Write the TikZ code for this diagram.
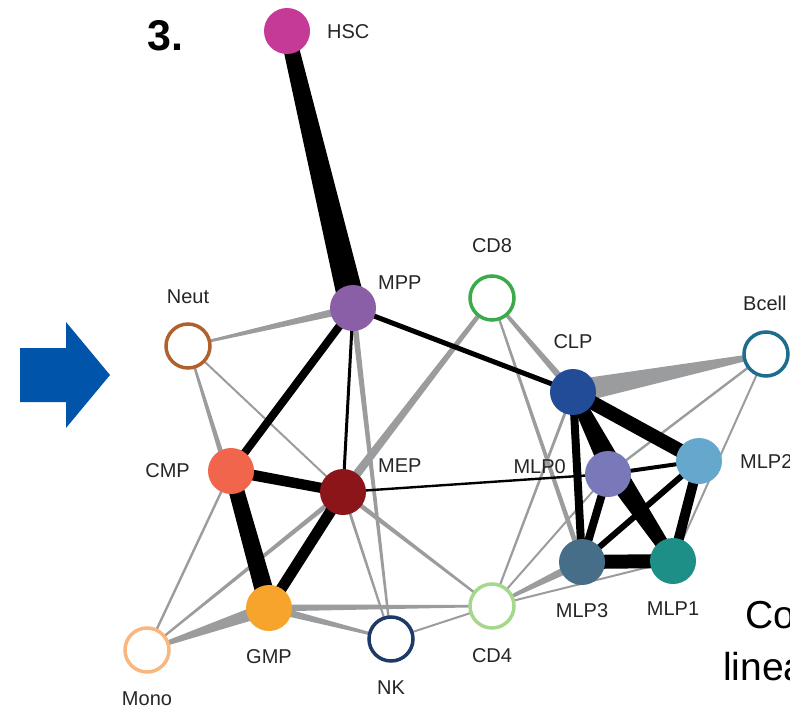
\documentclass[tikz,border=0pt]{standalone}
\usepackage{fontspec}
\setmainfont{Liberation Sans}
\usetikzlibrary{calc,backgrounds}
\definecolor{edgegray}{HTML}{9A9C9E}
\definecolor{labelgray}{HTML}{262626}
\definecolor{cHSC}{HTML}{C53A96}
\definecolor{cMPP}{HTML}{8B5EA8}
\definecolor{cNeut}{HTML}{B0612E}
\definecolor{cCMP}{HTML}{F0654B}
\definecolor{cMEP}{HTML}{8B1519}
\definecolor{cGMP}{HTML}{F6A42B}
\definecolor{cMono}{HTML}{F9B77F}
\definecolor{cNK}{HTML}{1E3A68}
\definecolor{cCDfour}{HTML}{A6D88C}
\definecolor{cCDeight}{HTML}{3BAA48}
\definecolor{cCLP}{HTML}{224C98}
\definecolor{cBcell}{HTML}{1D6E8C}
\definecolor{cMLPzero}{HTML}{7979BA}
\definecolor{cMLPtwo}{HTML}{66A7CD}
\definecolor{cMLPthree}{HTML}{466E89}
\definecolor{cMLPone}{HTML}{1D8F87}
\definecolor{arrowblue}{HTML}{0055AA}
% tapered connector: from #1 to #2, half-widths #3 at #1 and #4 at #2, colour #5
\newcommand{\taper}[5]{%
  \fill[#5] ($(#1)!#3!90:(#2)$) -- ($(#2)!#4!-90:(#1)$) -- ($(#2)!#4!90:(#1)$) -- ($(#1)!#3!-90:(#2)$) -- cycle;}
\begin{document}
\begin{tikzpicture}[x=1pt,y=-1pt,
  fnode/.style={circle, minimum size=46pt, inner sep=0pt, fill=#1},
  rnode/.style={circle, minimum size=44pt, inner sep=0pt, draw=#1, line width=3.5pt, fill=white},
  lbl/.style={font=\fontsize{20}{24}\selectfont, text=labelgray, inner sep=0pt},
  bigtxt/.style={font=\fontsize{39}{44}\selectfont, text=black, inner sep=0pt, anchor=base west}]
\useasboundingbox (0,0) rectangle (790,709);

% title and arrow
\node[font=\bfseries\fontsize{43}{48}\selectfont, inner sep=0pt, anchor=west] (title) at (147,36) {3.};
\fill[arrowblue] (20,348) -- (66,348) -- (66,322) -- (110,375) -- (66,428) -- (66,402) -- (20,402) -- cycle;

% nodes
\node[fnode=cHSC] (HSC) at (287,31) {};
\node[fnode=cMPP] (MPP) at (353,308) {};
\node[rnode=cNeut] (Neut) at (188,346) {};
\node[fnode=cCMP] (CMP) at (231,471) {};
\node[fnode=cMEP] (MEP) at (343,492) {};
\node[fnode=cGMP] (GMP) at (269,608) {};
\node[rnode=cMono] (Mono) at (147,650) {};
\node[rnode=cNK] (NK) at (391,639) {};
\node[rnode=cCDfour] (CD4) at (492,606) {};
\node[rnode=cCDeight] (CD8) at (492,298) {};
\node[fnode=cCLP] (CLP) at (573,392) {};
\node[rnode=cBcell] (Bcell) at (766,354) {};
\node[fnode=cMLPzero] (MLP0) at (608,474) {};
\node[fnode=cMLPtwo] (MLP2) at (699,461) {};
\node[fnode=cMLPthree] (MLP3) at (582,562) {};
\node[fnode=cMLPone] (MLP1) at (673,561) {};

% labels
\node[lbl, anchor=west] (lHSC) at (327,32) {HSC};
\node[lbl, anchor=west] (lMPP) at (378,283) {MPP};
\node[lbl] (lNeut) at (188,297) {Neut};
\node[lbl, anchor=east] (lCMP) at (190,471) {CMP};
\node[lbl, anchor=west] (lMEP) at (378,466) {MEP};
\node[lbl] (lGMP) at (269,657) {GMP};
\node[lbl] (lMono) at (147,699) {Mono};
\node[lbl] (lNK) at (391,688) {NK};
\node[lbl] (lCD4) at (492,656) {CD4};
\node[lbl] (lCD8) at (492,246) {CD8};
\node[lbl] (lCLP) at (573,342) {CLP};
\node[lbl, anchor=west] (lBcell) at (743,303) {Bcell};
\node[lbl, anchor=east] (lMLP0) at (566,467) {MLP0};
\node[lbl, anchor=west] (lMLP2) at (740,462) {MLP2};
\node[lbl] (lMLP3) at (582,611) {MLP3};
\node[lbl] (lMLP1) at (673,609) {MLP1};

% cut-off text at right
\node[bigtxt] (tCo) at (745,628) {Co};
\node[bigtxt] (tlinea) at (723,680) {linea};

\begin{pgfonlayer}{background}
\fill[white] (0,0) rectangle (790,709);
% gray connectors
\taper{MPP}{Neut}{4pt}{1pt}{edgegray}
\taper{MPP}{NK}{3pt}{1pt}{edgegray}
\taper{Neut}{MEP}{1pt}{1pt}{edgegray}
\taper{Neut}{GMP}{1pt}{4.5pt}{edgegray}
\taper{CMP}{Mono}{1.2pt}{1.2pt}{edgegray}
\taper{MEP}{Mono}{2.5pt}{1pt}{edgegray}
\taper{MEP}{CD8}{4.5pt}{2pt}{edgegray}
\taper{MEP}{CD4}{2.5pt}{1pt}{edgegray}
\taper{MEP}{NK}{1.5pt}{1pt}{edgegray}
\taper{GMP}{Mono}{7pt}{1.5pt}{edgegray}
\taper{GMP}{NK}{4pt}{1pt}{edgegray}
\taper{GMP}{CD4}{3.5pt}{1pt}{edgegray}
\taper{NK}{CD4}{1pt}{1pt}{edgegray}
\taper{CD4}{MLP3}{1pt}{4.5pt}{edgegray}
\taper{CD4}{MLP1}{1pt}{1pt}{edgegray}
\taper{CD4}{CLP}{1pt}{1.5pt}{edgegray}
\taper{CD4}{MLP0}{1pt}{1pt}{edgegray}
\taper{CD8}{CLP}{1.5pt}{3.5pt}{edgegray}
\taper{CD8}{MLP3}{1pt}{2.5pt}{edgegray}
\taper{CLP}{Bcell}{12pt}{2pt}{edgegray}
\taper{Bcell}{MLP0}{1.2pt}{1.2pt}{edgegray}
\taper{Bcell}{MLP1}{1pt}{1pt}{edgegray}
% black connectors
\taper{HSC}{MPP}{7.5pt}{13.5pt}{black}
\taper{MPP}{CMP}{4pt}{4pt}{black}
\taper{MPP}{MEP}{1.5pt}{1.5pt}{black}
\taper{MPP}{CLP}{2.5pt}{2.5pt}{black}
\taper{CMP}{MEP}{5.5pt}{5pt}{black}
\taper{CMP}{GMP}{7.5pt}{9.5pt}{black}
\taper{MEP}{GMP}{5.5pt}{5.5pt}{black}
\taper{MEP}{MLP0}{1.2pt}{1.2pt}{black}
\taper{CLP}{MLP2}{7pt}{7pt}{black}
\taper{CLP}{MLP0}{5.5pt}{5.5pt}{black}
\taper{CLP}{MLP3}{4pt}{4pt}{black}
\taper{CLP}{MLP1}{6pt}{6pt}{black}
\taper{MLP0}{MLP1}{5pt}{5pt}{black}
\taper{MLP0}{MLP3}{4pt}{4pt}{black}
\taper{MLP0}{MLP2}{2pt}{2pt}{black}
\taper{MLP2}{MLP3}{3pt}{3pt}{black}
\taper{MLP2}{MLP1}{5pt}{5pt}{black}
\taper{MLP3}{MLP1}{7pt}{7pt}{black}
\end{pgfonlayer}
\end{tikzpicture}
\end{document}
